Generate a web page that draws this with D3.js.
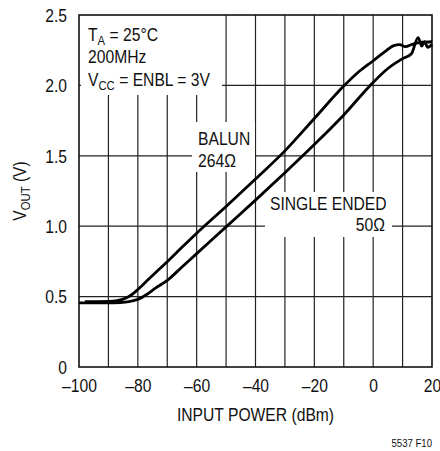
<!DOCTYPE html>
<html><head><meta charset="utf-8">
<script src="https://cdn.jsdelivr.net/npm/d3@7"></script>
<style>
html,body{margin:0;padding:0;background:#fff;}
svg text{font-family:"Liberation Sans Narrow","Arial Narrow","Liberation Sans",Arial,sans-serif;fill:#111;}
</style></head>
<body>
<svg id="chart" width="440" height="451"></svg>
<script>
const xTicks = [-100, -80, -60, -40, -20, 0, 20];
const yTicks = [0, 0.5, 1.0, 1.5, 2.0, 2.5];
const yTickLabels = ["0", "0.5", "1.0", "1.5", "2.0", "2.5"];
const xGrid = [-90, -80, -70, -60, -50, -40, -30, -20, -10, 0, 10];
const yGrid = [0.5, 1.0, 1.5, 2.0];

const balunX = [-98, -94, -90, -87, -84, -82, -80, -77, -74, -70, -65, -60, -50, -40, -30, -20, -10, -5, 0, 4, 7, 9, 11, 13, 16, 20];
const balunY = [0.465, 0.465, 0.466, 0.472, 0.49, 0.515, 0.55, 0.61, 0.67, 0.748, 0.85, 0.95, 1.14, 1.335, 1.535, 1.765, 1.995, 2.095, 2.175, 2.24, 2.283, 2.29, 2.275, 2.29, 2.305, 2.31];

const singleX = [-100, -95, -90, -86, -83, -80, -77, -74, -70, -65, -60, -50, -40, -30, -20, -10, -1, 5, 10, 13, 15.3, 16.5, 17.5, 18.5, 20];
const singleY = [0.455, 0.455, 0.455, 0.458, 0.465, 0.48, 0.515, 0.56, 0.615, 0.71, 0.805, 0.995, 1.185, 1.38, 1.58, 1.79, 2.0, 2.12, 2.19, 2.225, 2.34, 2.28, 2.31, 2.27, 2.29];

const svg = d3.select("#chart");
const L = 79, R = 432, T = 15, B = 367;
const x = d3.scaleLinear().domain([-100, 20]).range([L, R]);
const y = d3.scaleLinear().domain([0, 2.5]).range([B, T]);

const defs = svg.append("defs");
const mask = defs.append("mask").attr("id", "gridmask");
mask.append("rect").attr("x", 0).attr("y", 0).attr("width", 440).attr("height", 451).attr("fill", "#fff");
const boxes = [
  [L + 2, T, 222 - L - 2, 95 - T],
  [192, 122, 255 - 192, 172 - 122],
  [265, 192, 392 - 265, 237 - 192]
];
boxes.forEach(b => mask.append("rect").attr("x", b[0]).attr("y", b[1]).attr("width", b[2]).attr("height", b[3]).attr("fill", "#000"));

const grid = svg.append("g").attr("mask", "url(#gridmask)");
grid.selectAll("line.v").data(xGrid).enter().append("line")
  .attr("x1", d => x(d)).attr("x2", d => x(d)).attr("y1", T).attr("y2", B)
  .attr("stroke", "#222").attr("stroke-width", 1.2);
grid.selectAll("line.h").data(yGrid).enter().append("line")
  .attr("x1", L).attr("x2", R).attr("y1", d => y(d)).attr("y2", d => y(d))
  .attr("stroke", "#222").attr("stroke-width", 1.2);

svg.append("rect").attr("x", L).attr("y", T).attr("width", R - L).attr("height", B - T)
  .attr("fill", "none").attr("stroke", "#111").attr("stroke-width", 1.6);

const xAxis = d3.axisBottom(x).tickValues(xTicks).tickSize(0).tickPadding(0)
  .tickFormat(d => d < 0 ? "\u2013" + Math.abs(d) : String(d));
const gx = svg.append("g").attr("transform", `translate(0,${B})`).call(xAxis);
gx.select(".domain").remove();
gx.selectAll("text").attr("font-size", 18).attr("dy", null).attr("y", 25).attr("fill", "#111");

const yAxis = d3.axisLeft(y).tickValues(yTicks).tickSize(0).tickPadding(12)
  .tickFormat((d, i) => yTickLabels[i]);
const gy = svg.append("g").attr("transform", `translate(${L},0)`).call(yAxis);
gy.select(".domain").remove();
gy.selectAll("text").attr("font-size", 18).attr("dy", "0.35em").attr("fill", "#111");
gx.attr("font-family", null); gy.attr("font-family", null);

const line = d3.line().x(d => x(d[0])).y(d => y(d[1])).curve(d3.curveMonotoneX);
const balun = balunX.map((v, i) => [v, balunY[i]]);
const single = singleX.map((v, i) => [v, singleY[i]]);
[balun, single].forEach(s => {
  svg.append("path").datum(s).attr("d", line).attr("fill", "none")
    .attr("stroke", "#000").attr("stroke-width", 2.8).attr("stroke-linejoin", "round");
});

function addText(tx, ty, parts, anchor) {
  const t = svg.append("text").attr("x", tx).attr("y", ty).attr("font-size", 18)
    .attr("text-anchor", anchor || "start");
  let inSub = false;
  parts.forEach(p => {
    if (typeof p === "string") {
      const ts = t.append("tspan").text(p);
      if (inSub) { ts.attr("dy", -4); inSub = false; }
    } else {
      t.append("tspan").attr("font-size", 13).attr("dy", 4).text(p.sub);
      inSub = true;
    }
  });
  return t;
}
addText(88, 41, ["T", {sub: "A"}, " = 25\u00B0C"]);
addText(88, 63, ["200MHz"]);
addText(88, 86, ["V", {sub: "CC"}, " = ENBL = 3V"]);
addText(198, 145, ["BALUN"]);
addText(198, 167, ["264\u03A9"]);
addText(270, 210, ["SINGLE ENDED"]);
addText(385, 231, ["50\u03A9"], "end");

svg.append("text").attr("x", (L + R) / 2).attr("y", 421).attr("text-anchor", "middle")
  .attr("font-size", 18).text("INPUT POWER (dBm)");

const yt = svg.append("text").attr("transform", `translate(26,${(T + B) / 2}) rotate(-90)`)
  .attr("text-anchor", "middle").attr("font-size", 18);
yt.append("tspan").text("V");
yt.append("tspan").attr("font-size", 13).attr("dy", 4).text("OUT");
yt.append("tspan").attr("dy", -4).text(" (V)");

svg.append("text").attr("x", 432).attr("y", 447).attr("text-anchor", "end")
  .attr("font-size", 11).text("5537 F10");

svg.selectAll("text").each(function() {
  const len = this.getComputedTextLength();
  if (len > 0) d3.select(this).attr("textLength", len * 0.87).attr("lengthAdjust", "spacingAndGlyphs");
});
</script>
</body></html>
